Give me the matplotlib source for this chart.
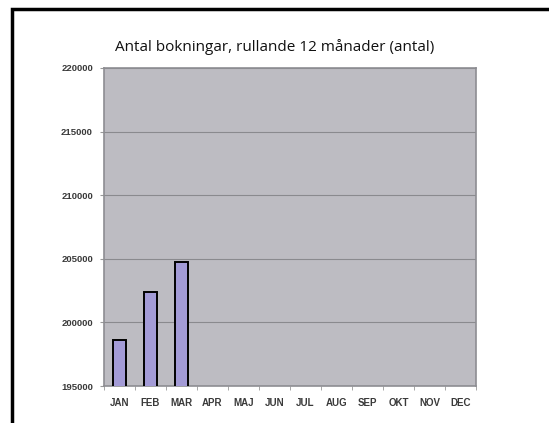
import matplotlib.pyplot as plt
from matplotlib.patches import Rectangle
import numpy as np

months = ["JAN", "FEB", "MAR", "APR", "MAJ", "JUN", "JUL", "AUG", "SEP", "OKT", "NOV", "DEC"]
bokningar = [198620, 202390, 204750]
yticks = [195000, 200000, 205000, 210000, 215000, 220000]

W, H = 549, 423
fig = plt.figure(figsize=(W / 100, H / 100), dpi=100)
fig.patch.set_facecolor("white")

# black frame round the chart (runs off the right and bottom edge)
fig.patches.append(Rectangle((12 / W, -0.2), 1.2, 1 - 9 / H + 0.2, transform=fig.transFigure,
                             fill=False, edgecolor="black", linewidth=2.5, zorder=10))

ax = fig.add_axes([104 / W, 1 - 386 / H, 372 / W, 318 / H])
ax.set_facecolor("#bdbcc2")
x = np.arange(len(months))
ax.bar(x[:len(bokningar)], bokningar, width=0.45, color="#a39bd6", edgecolor="black", linewidth=1.4, zorder=3)

ax.set_xlim(-0.5, len(months) - 0.5)
ax.set_ylim(195000, 220000)
ax.set_yticks(yticks)
ax.set_yticklabels([str(v) for v in yticks], fontsize=6.8, family="Liberation Sans",
                   fontweight="bold", color="#3a3a3a")
ax.set_xticks(x)
ax.set_xticklabels(months, fontsize=7, family="Liberation Sans", fontweight="bold", color="#3a3a3a")
ax.set_xticks(np.arange(-0.5, len(months)), minor=True)
ax.tick_params(axis="x", which="major", length=0, pad=8.5)
ax.tick_params(axis="x", which="minor", length=3, color="#999999")
ax.tick_params(axis="y", length=3, color="#999999", pad=5)
ax.grid(axis="y", color="#8a8a8e", linewidth=0.8, zorder=1)
for s in ax.spines.values():
    s.set_color("#8d8d92")
    s.set_linewidth(1.2)

fig.text(275 / W, 1 - 51 / H, "Antal bokningar, rullande 12 månader (antal)", ha="center", va="baseline",
         fontsize=11, family="Open Sans", color="#111111")

fig.savefig("out.png", dpi=100)
